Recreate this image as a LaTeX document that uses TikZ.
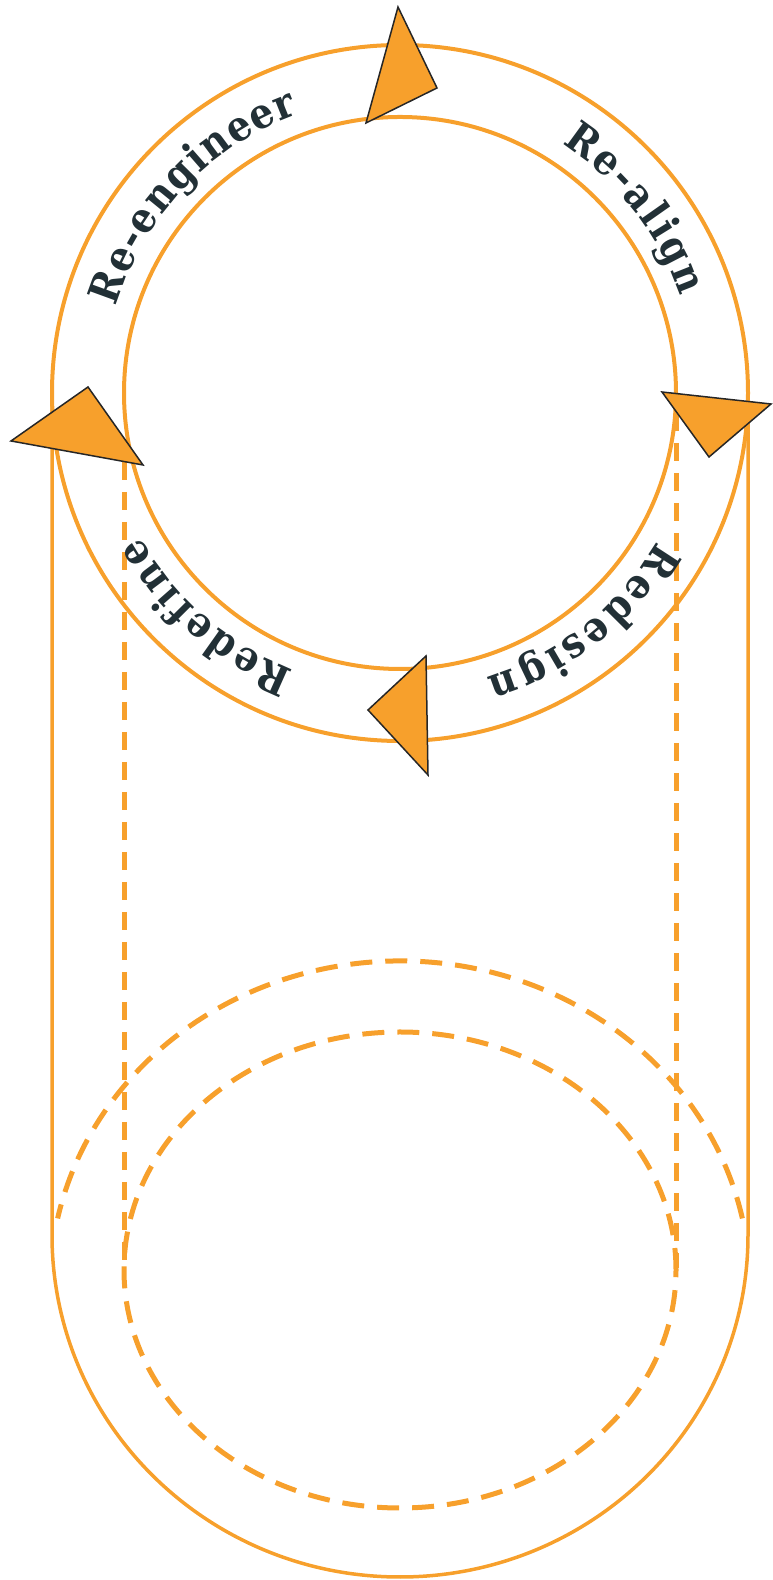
\documentclass[tikz,border=0pt]{standalone}
\usepackage{fontspec}
\newfontfamily\ringfont{DejaVu Serif Condensed}
\usetikzlibrary{decorations.text}
\definecolor{ringorange}{RGB}{247,160,44}
\definecolor{labelink}{RGB}{34,48,54}

\begin{document}
\begin{tikzpicture}[x=1pt, y=1pt,
  ringline/.style={draw=ringorange, line width=4pt},
  bodyline/.style={draw=ringorange, line width=3.5pt},
  dashline/.style={draw=ringorange, line width=5pt, dash pattern=on 22pt off 13pt},
  arrowhead/.style={fill=ringorange, draw=black!85, line width=1.5pt, line join=miter}]
  \useasboundingbox (0,0) rectangle (773,1580);

  % ring at the top
  \coordinate (ring) at (400,1187);
  \draw[ringline] (ring) circle[radius=348];
  \draw[ringline] (ring) circle[radius=276];

  % body below the ring
  \coordinate (lefttop) at (52,1187);
  \coordinate (leftbend) at (52,345);
  \coordinate (righttop) at (748,1187);
  \draw[bodyline] (lefttop) -- (leftbend)
    arc[start angle=180, end angle=360, x radius=348, y radius=342] -- (righttop);

  % hidden edges
  \coordinate (dashleft) at (124,1118);
  \coordinate (dashleftend) at (124,312);
  \coordinate (dashright) at (676,1167);
  \coordinate (dashrightend) at (676,312);
  \draw[dashline, dash pattern=on 18pt off 12pt] (dashleft) -- (dashleftend);
  \draw[dashline, dash pattern=on 18pt off 12pt] (dashright) -- (dashrightend);
  \coordinate (baseout) at (400,294);
  \coordinate (basein) at (400,310);
  \draw[dashline] (baseout) ++(12:350 and 325) arc[start angle=12, end angle=168, x radius=350, y radius=325];
  \draw[dashline] (basein) ellipse[x radius=276, y radius=238];

  % arrow heads on the ring
  \coordinate (topA) at (398,1573);
  \coordinate (topB) at (437,1492);
  \coordinate (topC) at (366,1457);
  \filldraw[arrowhead] (topA) -- (topB) -- (topC) -- cycle;
  \coordinate (rightA) at (662,1188);
  \coordinate (rightB) at (771,1176);
  \coordinate (rightC) at (709,1123);
  \filldraw[arrowhead] (rightA) -- (rightB) -- (rightC) -- cycle;
  \coordinate (bottomA) at (426,924);
  \coordinate (bottomB) at (428,805);
  \coordinate (bottomC) at (368,870);
  \filldraw[arrowhead] (bottomA) -- (bottomB) -- (bottomC) -- cycle;
  \coordinate (leftA) at (88,1193);
  \coordinate (leftB) at (143,1115);
  \coordinate (leftC) at (11,1139);
  \filldraw[arrowhead] (leftA) -- (leftB) -- (leftC) -- cycle;

  % labels along the ring
  \path[decorate, decoration={text along path, text color=labelink, text align=fit to path,
      text={|\ringfont\bfseries\fontsize{42}{44}\selectfont|Re-engineer}}]
    (ring) ++(163:297) arc[start angle=163, end angle=110, radius=297];
  \path[decorate, decoration={text along path, text color=labelink, text align=fit to path,
      text={|\ringfont\bfseries\fontsize{42}{44}\selectfont|Re-align}}]
    (ring) ++(57:297) arc[start angle=57, end angle=19, radius=297];
  \path[decorate, decoration={text along path, text color=labelink, text align=fit to path,
      text={|\ringfont\bfseries\fontsize{42}{44}\selectfont|Redesign}}]
    (ring) ++(-30:297) arc[start angle=-30, end angle=-73, radius=297];
  \path[decorate, decoration={text along path, text color=labelink, text align=fit to path,
      text={|\ringfont\bfseries\fontsize{42}{44}\selectfont|Redefine}}]
    (ring) ++(-111:297) arc[start angle=-111, end angle=-151, radius=297];
\end{tikzpicture}
\end{document}
